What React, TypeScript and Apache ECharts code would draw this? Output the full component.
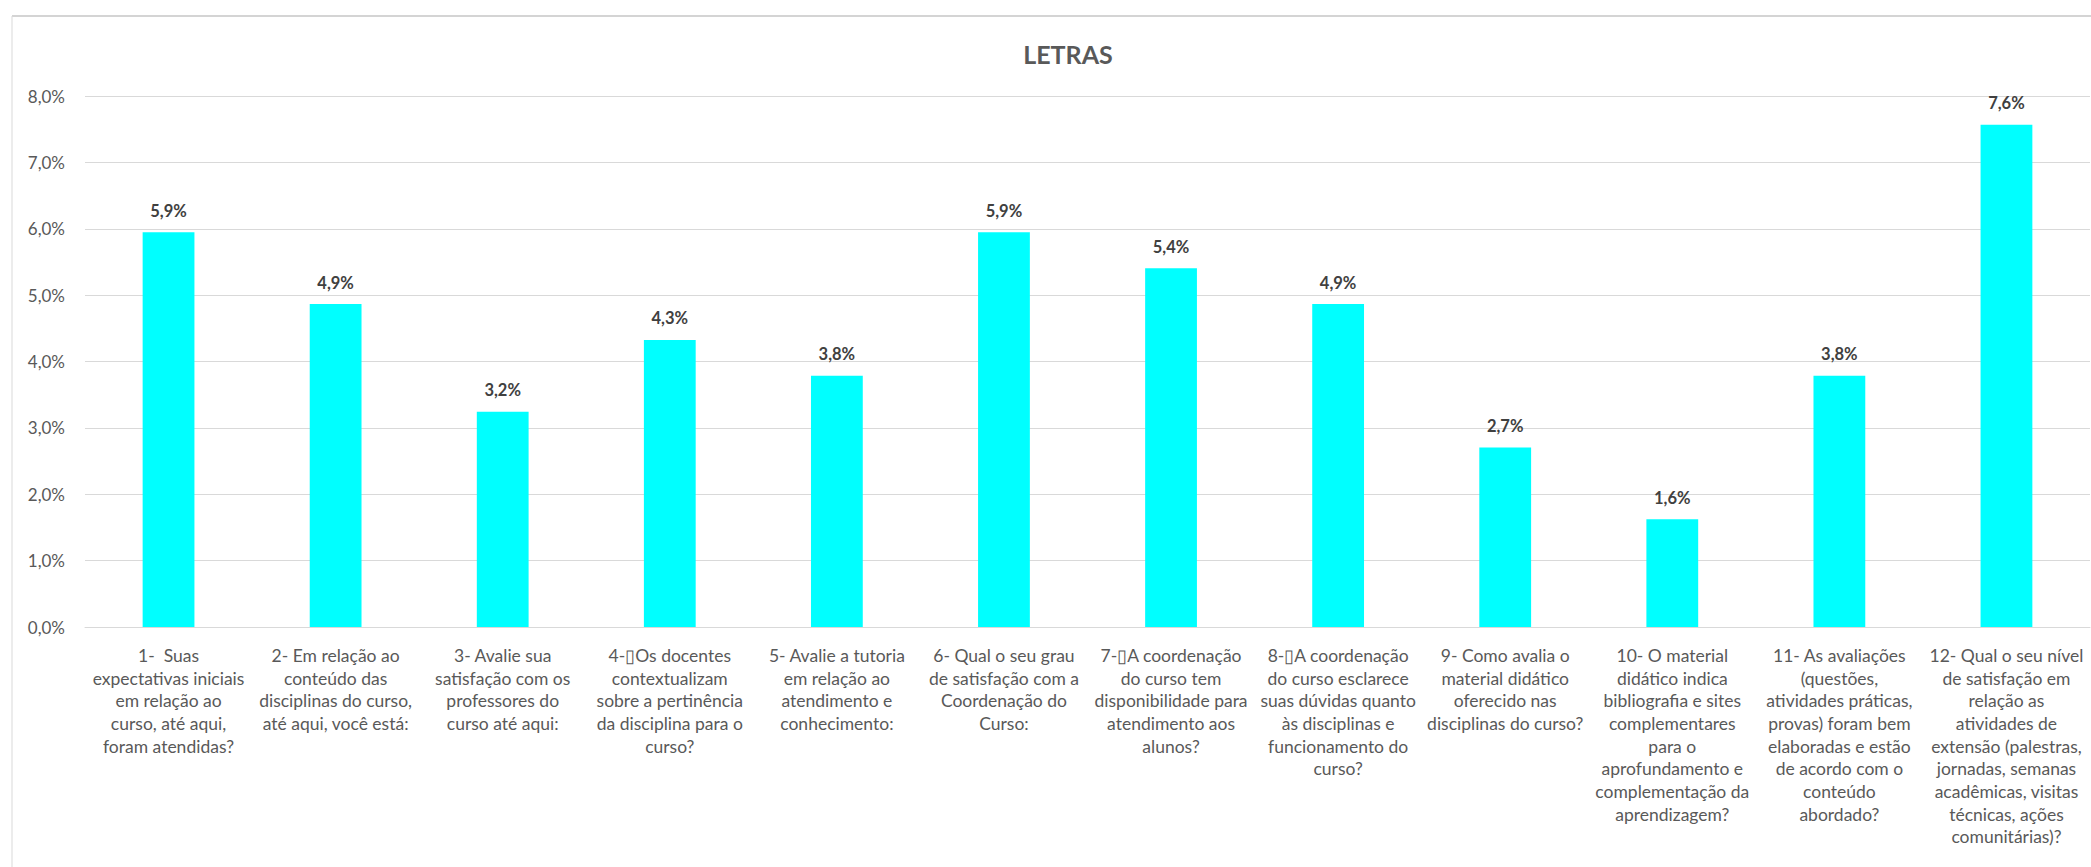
import React, { useEffect, useRef } from "react";
import * as echarts from "echarts";

const BOX = "\u25AF";

const categories: string[] = [
  "1-  Suas\nexpectativas iniciais\nem relação ao\ncurso, até aqui,\nforam atendidas?",
  "2- Em relação ao\nconteúdo das\ndisciplinas do curso,\naté aqui, você está:",
  "3- Avalie sua\nsatisfação com os\nprofessores do\ncurso até aqui:",
  "4-" + BOX + "Os docentes\ncontextualizam\nsobre a pertinência\nda disciplina para o\ncurso?",
  "5- Avalie a tutoria\nem relação ao\natendimento e\nconhecimento:",
  "6- Qual o seu grau\nde satisfação com a\nCoordenação do\nCurso:",
  "7-" + BOX + "A coordenação\ndo curso tem\ndisponibilidade para\natendimento aos\nalunos?",
  "8-" + BOX + "A coordenação\ndo curso esclarece\nsuas dúvidas quanto\nàs disciplinas e\nfuncionamento do\ncurso?",
  "9- Como avalia o\nmaterial didático\noferecido nas\ndisciplinas do curso?",
  "10- O material\ndidático indica\nbibliografia e sites\ncomplementares\npara o\naprofundamento e\ncomplementação da\naprendizagem?",
  "11- As avaliações\n(questões,\natividades práticas,\nprovas) foram bem\nelaboradas e estão\nde acordo com o\nconteúdo\nabordado?",
  "12- Qual o seu nível\nde satisfação em\nrelação as\natividades de\nextensão (palestras,\njornadas, semanas\nacadêmicas, visitas\ntécnicas, ações\ncomunitárias)?",
];

// percentages (%)
const values: number[] = [5.946, 4.865, 3.243, 4.324, 3.784, 5.946, 5.405, 4.865, 2.703, 1.622, 3.784, 7.568];

const yTicks = { min: 0, max: 8, interval: 1 };

const fmt = (v: number) => v.toFixed(1).replace(".", ",") + "%";

const FONT = "Lato, 'Open Sans', sans-serif";

export default function App() {
  const ref = useRef<HTMLDivElement>(null);
  useEffect(() => {
    if (!ref.current) return;
    const chart = echarts.init(ref.current, undefined, { renderer: "svg" });
    chart.setOption({
      animation: false,
      backgroundColor: "#ffffff",
      title: {
        text: "LETRAS",
        left: 1063,
        top: 36,
        textAlign: "center",
        textStyle: { fontFamily: FONT, fontSize: 25, fontWeight: "bold", color: "#595959" },
      },
      graphic: [
        { type: "line", shape: { x1: 12, y1: 16, x2: 2091, y2: 16 }, style: { stroke: "#d4d4d4", lineWidth: 2 } },
        { type: "line", shape: { x1: 12, y1: 16, x2: 12, y2: 867 }, style: { stroke: "#d9d9d9", lineWidth: 1 } },
      ],
      grid: { left: 85, right: 1, top: 96, bottom: 240, containLabel: false },
      xAxis: {
        type: "category",
        data: categories,
        axisLine: { show: true, lineStyle: { color: "#d9d9d9", width: 1 } },
        axisTick: { show: false },
        axisLabel: {
          interval: 0,
          margin: 17,
          fontFamily: FONT,
          fontSize: 17.5,
          lineHeight: 22.7,
          color: "#595959",
          align: "center",
        },
      },
      yAxis: {
        type: "value",
        min: yTicks.min,
        max: yTicks.max,
        interval: yTicks.interval,
        axisLine: { show: false },
        axisTick: { show: false },
        splitLine: { lineStyle: { color: "#d9d9d9", width: 1 } },
        axisLabel: {
          formatter: (v: number) => fmt(v),
          margin: 20,
          fontFamily: FONT,
          fontSize: 17,
          color: "#595959",
        },
      },
      series: [
        {
          type: "bar",
          data: values,
          barWidth: "31%",
          itemStyle: { color: "#00FFFF" },
          label: {
            show: true,
            position: "top",
            distance: 13,
            formatter: (p: any) => fmt(p.value),
            fontFamily: FONT,
            fontSize: 16.5,
            fontWeight: "bold",
            color: "#404040",
          },
        },
      ],
    });
    return () => chart.dispose();
  }, []);
  return (
    <div
      ref={ref}
      style={{ position: "fixed", left: 0, top: 0, width: 2091, height: 867, background: "#fff" }}
    />
  );
}
